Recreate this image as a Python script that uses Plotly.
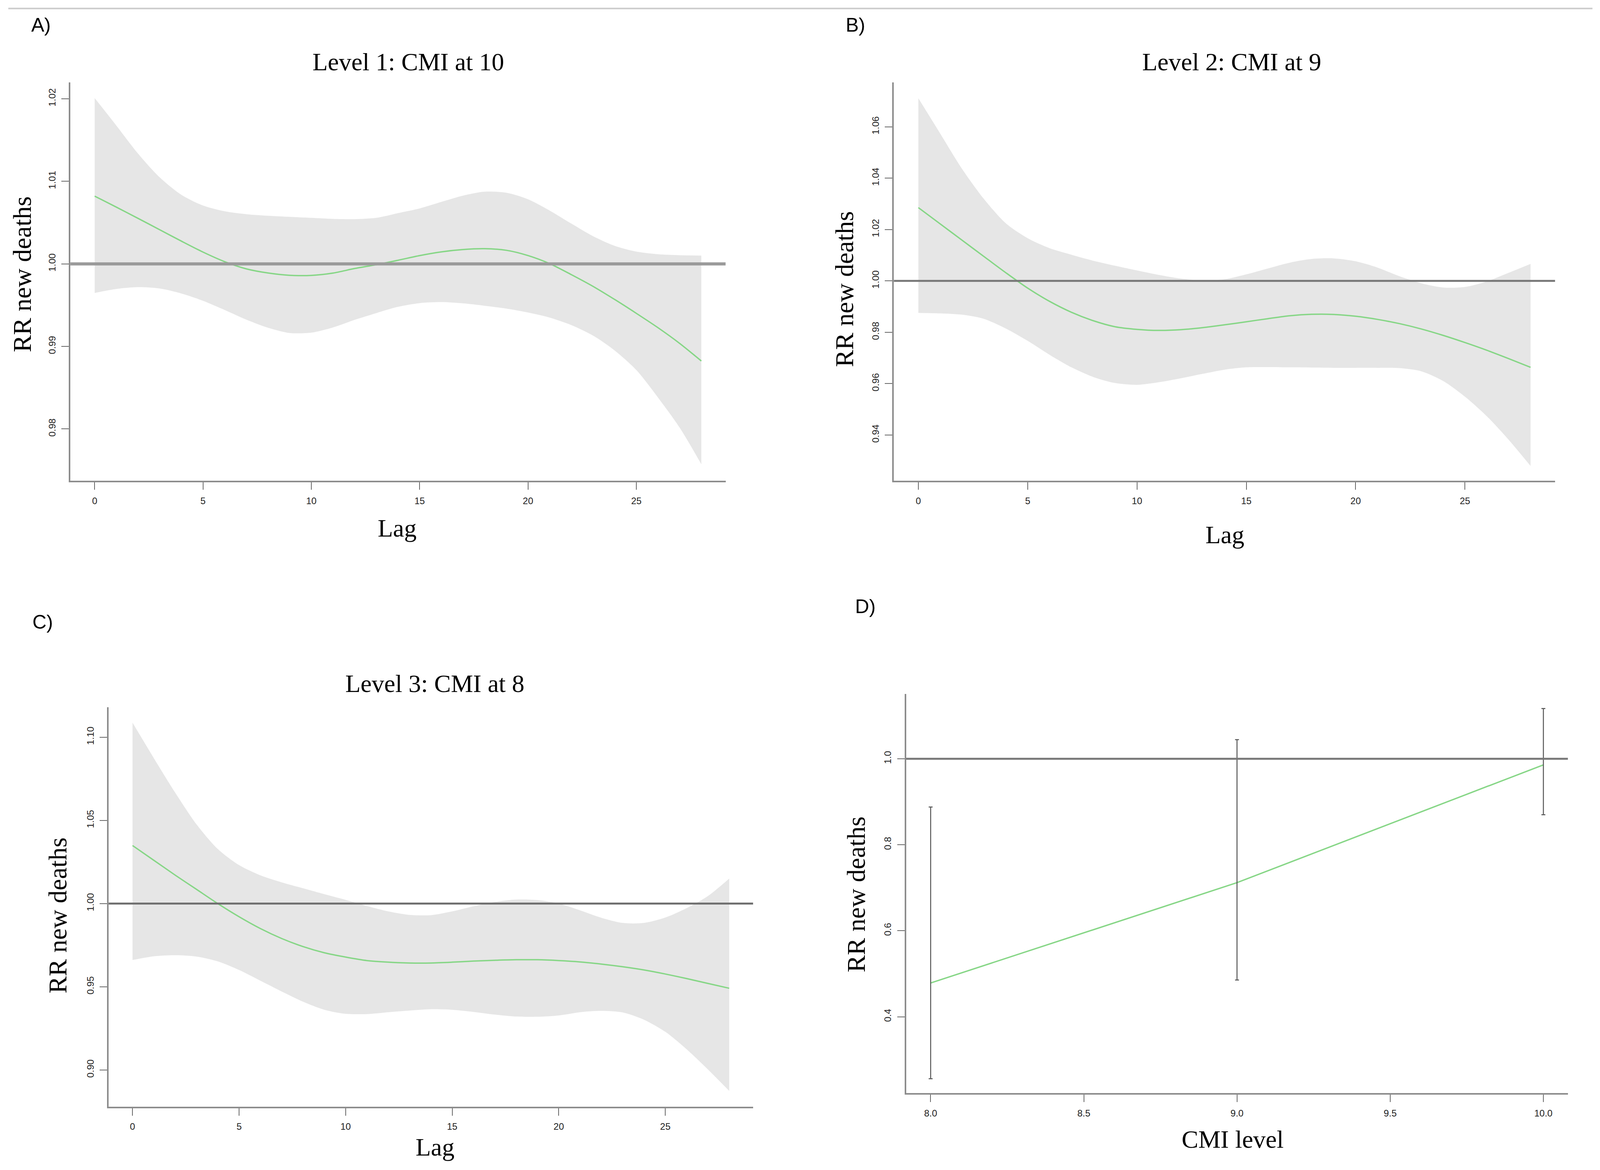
import plotly.graph_objects as go

# ---------------- data ----------------
lag = list(range(29))

# Panel A: Level 1, CMI at 10
a_rr = [1.00821, 1.00688, 1.00552, 1.00414, 1.00276, 1.00143, 1.00027, 0.99940, 0.99890, 0.99862,
        0.99861, 0.99889, 0.99944, 0.99990, 1.00044, 1.00101, 1.00146, 1.00174, 1.00184, 1.00165,
        1.00101, 1.00003, 0.99870, 0.99728, 0.99569, 0.99401, 0.99227, 0.99037, 0.98824]
a_hi = [1.02009, 1.01676, 1.01337, 1.01049, 1.00837, 1.00707, 1.00637, 1.00602, 1.00583, 1.00570,
        1.00558, 1.00545, 1.00542, 1.00558, 1.00615, 1.00672, 1.00751, 1.00827, 1.00875, 1.00862,
        1.00783, 1.00646, 1.00488, 1.00336, 1.00219, 1.00149, 1.00117, 1.00105, 1.00101]
a_lo = [0.99648, 0.99696, 0.99718, 0.99702, 0.99642, 0.99553, 0.99442, 0.99325, 0.99227, 0.99163,
        0.99167, 0.99230, 0.99322, 0.99404, 0.99480, 0.99525, 0.99537, 0.99522, 0.99493, 0.99458,
        0.99411, 0.99350, 0.99259, 0.99132, 0.98951, 0.98714, 0.98381, 0.98016, 0.97573]

# Panel B: Level 2, CMI at 9
b_rr = [1.02854, 1.02220, 1.01585, 1.00950, 1.00320, 0.99720, 0.99205, 0.98780, 0.98451, 0.98216,
        0.98114, 0.98073, 0.98100, 0.98180, 0.98290, 0.98410, 0.98532, 0.98644, 0.98700, 0.98695,
        0.98624, 0.98502, 0.98338, 0.98130, 0.97880, 0.97600, 0.97300, 0.96975, 0.96636]
b_hi = [1.07115, 1.05739, 1.04363, 1.03191, 1.02243, 1.01662, 1.01274, 1.01019, 1.00785, 1.00591,
        1.00408, 1.00234, 1.00092, 1.00010, 1.00061, 1.00255, 1.00489, 1.00714, 1.00856, 1.00877,
        1.00765, 1.00520, 1.00183, 0.99908, 0.99745, 0.99766, 0.99980, 1.00316, 1.00663]
b_lo = [0.98756, 0.98736, 0.98685, 0.98522, 0.98145, 0.97666, 0.97125, 0.96636, 0.96259, 0.96024,
        0.95953, 0.96055, 0.96208, 0.96381, 0.96544, 0.96636, 0.96646, 0.96636, 0.96626, 0.96616,
        0.96616, 0.96616, 0.96606, 0.96483, 0.96106, 0.95494, 0.94730, 0.93812, 0.92793]

# Panel C: Level 3, CMI at 8
c_rr = [1.03490, 1.02601, 1.01712, 1.00856, 1.00000, 0.99208, 0.98498, 0.97900, 0.97415, 0.97044,
        0.96785, 0.96575, 0.96478, 0.96430, 0.96430, 0.96478, 0.96543, 0.96591, 0.96624, 0.96624,
        0.96575, 0.96494, 0.96365, 0.96204, 0.96010, 0.95767, 0.95493, 0.95202, 0.94911]
c_hi = [1.10872, 1.08740, 1.06672, 1.04766, 1.03279, 1.02310, 1.01696, 1.01276, 1.00921, 1.00565,
        1.00226, 0.99855, 0.99532, 0.99321, 0.99305, 0.99532, 0.99838, 1.00097, 1.00242, 1.00210,
        1.00000, 0.99596, 0.99144, 0.98837, 0.98837, 0.99160, 0.99725, 1.00452, 1.01502]
c_lo = [0.96607, 0.96834, 0.96898, 0.96817, 0.96527, 0.96010, 0.95364, 0.94717, 0.94103, 0.93619,
        0.93376, 0.93360, 0.93473, 0.93570, 0.93651, 0.93619, 0.93490, 0.93328, 0.93215, 0.93199,
        0.93279, 0.93473, 0.93554, 0.93457, 0.93021, 0.92294, 0.91244, 0.90032, 0.88740]

# Panel D: overall RR by CMI level
cmi = [8.0, 9.0, 10.0]
d_rr = [0.4786, 0.7120, 0.9860]
d_lo = [0.2560, 0.4855, 0.8700]
d_hi = [0.8880, 1.0446, 1.1170]

lag_ticks = [0, 5, 10, 15, 20, 25]
a_yticks = [0.98, 0.99, 1.00, 1.01, 1.02]
b_yticks = [0.94, 0.96, 0.98, 1.00, 1.02, 1.04, 1.06]
c_yticks = [0.90, 0.95, 1.00, 1.05, 1.10]
d_xticks = [8.0, 8.5, 9.0, 9.5, 10.0]
d_yticks = [0.4, 0.6, 0.8, 1.0]

titles = ["Level 1: CMI at 10", "Level 2: CMI at 9", "Level 3: CMI at 8"]
ytitle = "RR new deaths"

# ---------------- styling ----------------
REF_W, REF_H = 4236, 2996      # reference frame used for placement fractions
FIG_W, FIG_H = 4096, 2996      # visible page area
GREEN = "#86d686"
BAND = "#e6e6e6"
SERIF = "Liberation Serif, Times New Roman, serif"
SANS = "Liberation Sans, Arial, sans-serif"


def px_x(p):
    return p / REF_W


def px_y(p):
    return 1 - p / REF_H


fig = go.Figure()

panels = [
    ("x", "y", a_rr, a_lo, a_hi, (186.4, 1921), (211.4, 1231), (0.97373, 1.02197), a_yticks),
    ("x2", "y2", b_rr, b_lo, b_hi, (2366.5, 4117), (211, 1231), (0.9222, 1.0773), b_yticks),
    ("x3", "y3", c_rr, c_lo, c_hi, (287.7, 1993.8), (1811, 2833.6), (0.8780, 1.1180), c_yticks),
]

ref_style = [("#9a9a9a", 8), ("#777777", 5), ("#6e6e6e", 5)]

axis_common = dict(
    showgrid=False, zeroline=False, showline=True, linecolor="#8c8c8c", linewidth=4,
    ticks="outside", ticklen=19, tickwidth=2, tickcolor="#666666",
    tickfont=dict(family=SANS, size=24, color="#222222"),
)

layout_axes = {}
for i, (xa, ya, rr, lo, hi, xd, yd, yr, yt) in enumerate(panels):
    fig.add_trace(go.Scatter(x=lag, y=lo, xaxis=xa, yaxis=ya, mode="lines",
                             line=dict(width=0, shape="spline", smoothing=0.8),
                             hoverinfo="skip", showlegend=False))
    fig.add_trace(go.Scatter(x=lag, y=hi, xaxis=xa, yaxis=ya, mode="lines",
                             line=dict(width=0, shape="spline", smoothing=0.8),
                             fill="tonexty", fillcolor=BAND, showlegend=False))
    fig.add_trace(go.Scatter(x=lag, y=rr, xaxis=xa, yaxis=ya, mode="lines",
                             line=dict(color=GREEN, width=3.5, shape="spline", smoothing=0.8),
                             showlegend=False))
    xkey = "xaxis" if xa == "x" else "xaxis" + xa[1:]
    ykey = "yaxis" if ya == "y" else "yaxis" + ya[1:]
    layout_axes[xkey] = dict(axis_common, domain=[px_x(xd[0]), px_x(xd[1])], anchor=ya,
                             range=[-1.12, 29.12], tickvals=lag_ticks, ticklabelstandoff=8)
    layout_axes[ykey] = dict(axis_common, domain=[px_y(yd[1]), px_y(yd[0])], anchor=xa,
                             range=list(yr), tickvals=yt, tickformat=".2f", tickangle=-90,
                             ticklabelstandoff=6)
    col, wid = ref_style[i]
    fig.add_shape(type="line", xref=xa + " domain", yref=ya, x0=0, x1=1, y0=1.0, y1=1.0,
                  line=dict(color=col, width=wid))

# Panel D
d_plus = [h - r for h, r in zip(d_hi, d_rr)]
d_minus = [r - l for r, l in zip(d_rr, d_lo)]
fig.add_trace(go.Scatter(x=cmi, y=d_rr, xaxis="x4", yaxis="y4", mode="lines",
                         line=dict(color=GREEN, width=3.5), showlegend=False))
fig.add_trace(go.Scatter(x=cmi, y=d_rr, xaxis="x4", yaxis="y4", mode="markers",
                         marker=dict(size=1, color="rgba(0,0,0,0)"),
                         error_y=dict(type="data", symmetric=False, array=d_plus, arrayminus=d_minus,
                                      color="#555555", thickness=2.5, width=5),
                         showlegend=False))
layout_axes["xaxis4"] = dict(axis_common, domain=[px_x(2399), px_x(4151)], anchor="y4",
                             range=[7.92, 10.08], tickvals=d_xticks, tickformat=".1f",
                             ticklabelstandoff=8)
layout_axes["yaxis4"] = dict(axis_common, domain=[px_y(2799), px_y(1777.4)], anchor="x4",
                             range=[0.2226, 1.1505], tickvals=d_yticks, tickformat=".1f",
                             tickangle=-90, ticklabelstandoff=6)
fig.add_shape(type="line", xref="x4 domain", yref="y4", x0=0, x1=1, y0=1.0, y1=1.0,
              line=dict(color="#777777", width=5))

# top separator line
fig.add_shape(type="line", xref="paper", yref="paper", x0=px_x(22), x1=px_x(4216),
              y0=px_y(21.7), y1=px_y(21.7), line=dict(color="#cccccc", width=4))

annotations = []


def add_text(text, x, y, size, family, angle=0, xanchor="center", yanchor="middle"):
    annotations.append(dict(text=text, x=px_x(x), y=px_y(y), xref="paper", yref="paper",
                            showarrow=False, textangle=angle, xanchor=xanchor, yanchor=yanchor,
                            font=dict(family=family, size=size, color="#000000")))


# panel letters
add_text("A)", 81, 64, 50, SANS, xanchor="left")
add_text("B)", 2237, 64, 50, SANS, xanchor="left")
add_text("C)", 84, 1593, 50, SANS, xanchor="left")
add_text("D)", 2262, 1553, 50, SANS, xanchor="left")

# panel titles
add_text(titles[0], 1081, 159, 64, SERIF)
add_text(titles[1], 3261, 159, 64, SERIF)
add_text(titles[2], 1152, 1750, 64, SERIF)

# y titles
add_text(ytitle, 58, 702, 66, SERIF, angle=-90)
add_text(ytitle, 2236, 740, 66, SERIF, angle=-90)
add_text(ytitle, 152, 2344, 66, SERIF, angle=-90)
add_text(ytitle, 2266, 2290, 66, SERIF, angle=-90)

# x titles
add_text("Lag", 1052, 1352, 64, SERIF)
add_text("Lag", 3243, 1370, 64, SERIF)
add_text("Lag", 1152, 2937, 64, SERIF)
add_text("CMI level", 3263, 2917, 64, SERIF)

fig.update_layout(
    width=FIG_W, height=FIG_H, margin=dict(l=0, r=0, t=0, b=0),
    paper_bgcolor="white", plot_bgcolor="white", showlegend=False,
    annotations=annotations, **layout_axes,
)

fig.write_html("out.html", config={"displayModeBar": False},
               post_script="document.body.style.margin='0px';")
